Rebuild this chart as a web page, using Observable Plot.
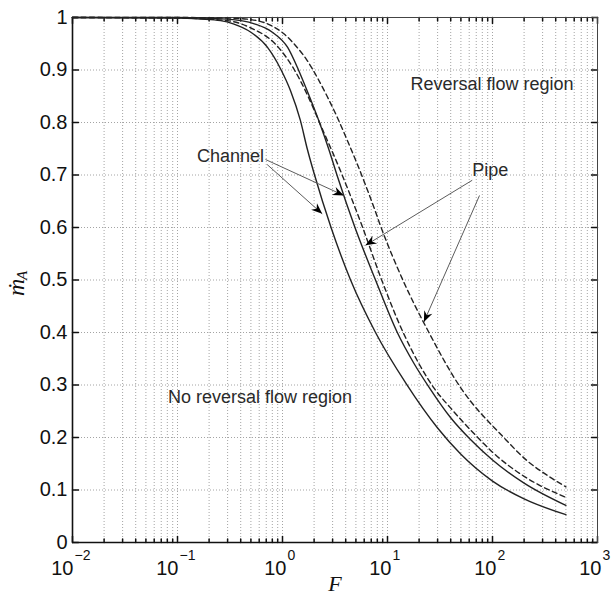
<!DOCTYPE html>
<html>
<head>
<meta charset="utf-8">
<script src="https://cdn.jsdelivr.net/npm/d3@7"></script>
<script src="https://cdn.jsdelivr.net/npm/@observablehq/plot@0.6"></script>
<style>
  html, body { margin: 0; padding: 0; background: #fff; }
  #chart svg { display: block; }
</style>
</head>
<body>
<div id="chart"></div>
<script>
// Flow fraction ṁ_A against the parameter F, channel (solid) and pipe (dashed)
const channelLowF  = [0.01, 0.1, 0.166, 0.257, 0.34, 0.5, 0.72, 0.96, 1.19, 1.48, 1.72, 2.02, 2.9, 4.45, 7.69, 15, 30, 50, 100, 200, 500];
const channelLowM  = [1.0, 0.999, 0.997, 0.994, 0.988, 0.972, 0.943, 0.902, 0.861, 0.804, 0.75, 0.70, 0.60, 0.50, 0.40, 0.303, 0.218, 0.168, 0.117, 0.083, 0.053];

const channelHighF = [0.01, 0.1, 0.3, 0.54, 0.8, 1.12, 1.42, 1.8, 2.25, 2.75, 3.3, 4.9, 7.69, 12.4, 18, 25, 39.8, 61.7, 100, 200, 500];
const channelHighM = [1.0, 1.0, 0.997, 0.988, 0.972, 0.943, 0.90, 0.85, 0.80, 0.75, 0.70, 0.60, 0.50, 0.40, 0.34, 0.295, 0.238, 0.196, 0.157, 0.113, 0.0705];

const pipeLowF     = [0.01, 0.1, 0.3, 0.5, 0.85, 1.3, 1.75, 2.25, 3.7, 5.8, 8.8, 14.1, 20, 28, 40, 70, 100, 200, 500];
const pipeLowM     = [1.0, 0.999, 0.994, 0.98, 0.95, 0.90, 0.85, 0.80, 0.70, 0.60, 0.50, 0.40, 0.34, 0.293, 0.256, 0.203, 0.172, 0.126, 0.086];

const pipeHighF    = [0.01, 0.1, 0.3, 0.5, 0.72, 1.03, 1.38, 1.72, 2.14, 2.69, 3.32, 4.14, 5.15, 7.4, 8.7, 14, 24.8, 47.8, 128, 213, 350, 500];
const pipeHighM    = [1.0, 1.0, 0.999, 0.996, 0.988, 0.969, 0.943, 0.918, 0.886, 0.848, 0.81, 0.766, 0.721, 0.639, 0.60, 0.50, 0.40, 0.30, 0.20, 0.156, 0.125, 0.106];

// Axes
const xDomain = [0.01, 1000];
const yDomain = [0, 1];
const xDecades = [0.01, 0.1, 1, 10, 100, 1000];
const xExponents = ["\u22122", "\u22121", "0", "1", "2", "3"];
const yTicks = [0, 0.1, 0.2, 0.3, 0.4, 0.5, 0.6, 0.7, 0.8, 0.9, 1];
const yTickLabels = ["0", "0.1", "0.2", "0.3", "0.4", "0.5", "0.6", "0.7", "0.8", "0.9", "1"];
const xMinor = [];
for (const d of xDecades.slice(0, -1)) for (let k = 2; k <= 9; ++k) xMinor.push(+(d * k).toPrecision(3));

// Annotations
const noteText = ["Reversal flow region", "Channel", "Pipe", "No reversal flow region"];
const noteF    = [99, 0.32, 95, 0.61];
const noteM    = [0.872, 0.735, 0.71, 0.276];

const arrowFromF = [0.689, 0.714, 64.1, 75.2];
const arrowFromM = [0.7295, 0.72, 0.69, 0.661];
const arrowToF   = [3.84, 2.39, 6.17, 22.2];
const arrowToM   = [0.661, 0.626, 0.566, 0.42];

const rows = (F, M) => F.map((f, i) => ({F: f, m: M[i]}));
const solid = [rows(channelLowF, channelLowM), rows(channelHighF, channelHighM)];
const dashed = [rows(pipeLowF, pipeLowM), rows(pipeHighF, pipeHighM)];
const notes = noteText.map((t, i) => ({t, F: noteF[i], m: noteM[i]}));
const arrows = arrowFromF.map((f, i) => ({x1: f, y1: arrowFromM[i], x2: arrowToF[i], y2: arrowToM[i]}));

const sans = "'Liberation Sans', Arial, Helvetica, sans-serif";
const serif = "'Liberation Serif', 'DejaVu Serif', 'Times New Roman', serif";

// Inward tick stroke for Plot.vector
const tickShape = {draw(ctx, l) { ctx.moveTo(0, 0); ctx.lineTo(0, -l); }};

// Filled arrowhead placed at the end of each annotation line
function arrowHead() {
  return d3.create("svg:marker")
    .attr("viewBox", "-12 -6 13 12")
    .attr("markerWidth", 13)
    .attr("markerHeight", 12)
    .attr("markerUnits", "userSpaceOnUse")
    .attr("orient", "auto")
    .attr("overflow", "visible")
    .call(m => m.append("path")
      .attr("d", "M0,0L-11,-4.4L-7.5,0L-11,4.4Z")
      .attr("fill", "#000")
      .attr("stroke", "none"))
    .node();
}

const chart = Plot.plot({
  width: 614,
  height: 597,
  marginLeft: 72,
  marginRight: 17,
  marginTop: 17,
  marginBottom: 55,
  style: {fontFamily: sans, background: "#fff", overflow: "visible"},
  x: {type: "log", domain: xDomain, axis: null},
  y: {domain: yDomain, axis: null},
  marks: [
    // dotted grid
    Plot.gridX(xDecades.concat(xMinor), {stroke: "#9a9a9a", strokeOpacity: 1, strokeWidth: 0.9, strokeDasharray: "1,2"}),
    Plot.gridY(yTicks, {stroke: "#9a9a9a", strokeOpacity: 1, strokeWidth: 0.9, strokeDasharray: "1,2"}),

    // inward ticks on all four sides
    Plot.vector(xDecades, {x: d => d, frameAnchor: "bottom", length: 6, rotate: 0, anchor: "start", shape: tickShape, stroke: "#111"}),
    Plot.vector(xMinor, {x: d => d, frameAnchor: "bottom", length: 3.5, rotate: 0, anchor: "start", shape: tickShape, stroke: "#111"}),
    Plot.vector(xDecades, {x: d => d, frameAnchor: "top", length: 6, rotate: 180, anchor: "start", shape: tickShape, stroke: "#111"}),
    Plot.vector(xMinor, {x: d => d, frameAnchor: "top", length: 3.5, rotate: 180, anchor: "start", shape: tickShape, stroke: "#111"}),
    Plot.vector(yTicks, {y: d => d, frameAnchor: "left", length: 6, rotate: 90, anchor: "start", shape: tickShape, stroke: "#111"}),
    Plot.vector(yTicks, {y: d => d, frameAnchor: "right", length: 6, rotate: 270, anchor: "start", shape: tickShape, stroke: "#111"}),

    // box
    Plot.frame({stroke: "#444", strokeWidth: 1}),
    Plot.ruleX([xDomain[0]], {stroke: "#111", strokeWidth: 1.6}),
    Plot.ruleY([yDomain[0]], {stroke: "#111", strokeWidth: 1.6}),

    // curves
    ...solid.map(d => Plot.line(d, {x: "F", y: "m", stroke: "#222", strokeWidth: 1.4, curve: "monotone-x"})),
    ...dashed.map(d => Plot.line(d, {x: "F", y: "m", stroke: "#222", strokeWidth: 1.4, strokeDasharray: "5,3.5", curve: "monotone-x"})),

    // annotation arrows and labels
    Plot.link(arrows, {x1: "x1", y1: "y1", x2: "x2", y2: "y2", stroke: "#5c5c5c", strokeWidth: 1, markerEnd: arrowHead}),
    Plot.text(notes, {x: "F", y: "m", text: "t", fontSize: 18, fill: "#2a2a2a", textAnchor: "middle", lineAnchor: "middle"}),

    // y tick labels
    Plot.text(yTicks, {y: d => d, text: (d, i) => yTickLabels[i], frameAnchor: "left", textAnchor: "end", dx: -5, fontSize: 20, fill: "#111", lineAnchor: "middle"}),

    // x tick labels: base 10 with a raised exponent
    Plot.text(xDecades, {x: d => d, text: () => "10", filter: d => d < 1, frameAnchor: "bottom", textAnchor: "end", lineAnchor: "bottom", dx: 1, dy: 32, fontSize: 20, fill: "#111"}),
    Plot.text(xDecades, {x: d => d, text: (d, i) => xExponents[i], filter: d => d < 1, frameAnchor: "bottom", textAnchor: "start", lineAnchor: "bottom", dx: 2, dy: 17, fontSize: 14, fill: "#111"}),
    Plot.text(xDecades, {x: d => d, text: () => "10", filter: d => d >= 1, frameAnchor: "bottom", textAnchor: "end", lineAnchor: "bottom", dx: 4, dy: 32, fontSize: 20, fill: "#111"}),
    Plot.text(xDecades, {x: d => d, text: (d, i) => xExponents[i], filter: d => d >= 1, frameAnchor: "bottom", textAnchor: "start", lineAnchor: "bottom", dx: 5, dy: 17, fontSize: 14, fill: "#111"}),

    // axis titles
    Plot.text(["F"], {text: d => d, frameAnchor: "bottom", dy: 41, lineAnchor: "middle", fontFamily: serif, fontStyle: "italic", fontSize: 22, fill: "#111"}),
    Plot.text(["\u1E41"], {text: d => d, frameAnchor: "left", dx: -56, dy: 16, rotate: -90, lineAnchor: "middle", fontFamily: serif, fontStyle: "italic", fontSize: 24, fill: "#111"}),
    Plot.text(["A"], {text: d => d, frameAnchor: "left", dx: -50, dy: 0, rotate: -90, lineAnchor: "middle", fontFamily: serif, fontStyle: "italic", fontSize: 15, fill: "#111"})
  ]
});

document.getElementById("chart").append(chart);
</script>
</body>
</html>
